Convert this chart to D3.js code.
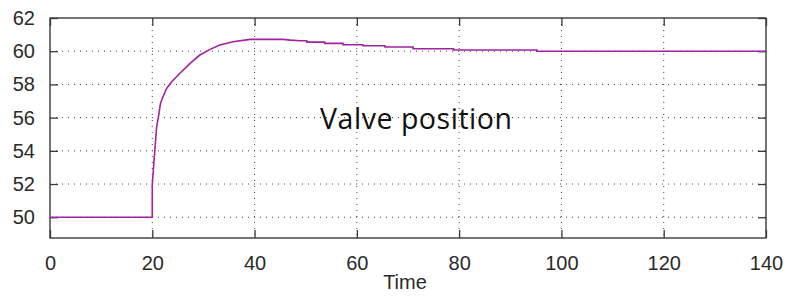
<!DOCTYPE html>
<html>
<head>
<meta charset="utf-8">
<script src="https://cdn.jsdelivr.net/npm/d3@7"></script>
<style>
  html, body { margin: 0; padding: 0; background: #fff; }
  svg { display: block; }
</style>
</head>
<body>
<svg id="chart" width="792" height="296"></svg>
<script>
// ---- data ----
const time = [0, 20, 20, 20.2, 20.5, 20.85, 21.2, 21.6, 22.1, 22.8, 23.8, 25.4, 27.4, 29.3, 31.3, 33.2, 35.8, 39.1,
  45.6, 47.0, 48.9, 50.2, 50.2, 53.7, 53.7, 57.3, 57.3, 61.2, 61.2, 65.5, 65.5, 71.0, 71.0, 78.9, 78.9, 95.2, 95.2, 140];
const valve = [50, 50, 52.0, 52.8, 54.05, 55.45, 56.05, 56.86, 57.26, 57.76, 58.16, 58.67, 59.27, 59.77, 60.11, 60.37, 60.57, 60.71,
  60.71, 60.67, 60.63, 60.63, 60.55, 60.55, 60.47, 60.47, 60.39, 60.39, 60.33, 60.33, 60.25, 60.25, 60.15, 60.15, 60.07, 60.07, 60.0, 60.0];
const xTicks = [0, 20, 40, 60, 80, 100, 120, 140];
const yTicks = [50, 52, 54, 56, 58, 60, 62];
const xLabel = "Time";
const titleText = "Valve position";

// ---- layout ----
const svg = d3.select("#chart");
const L = 50, R = 766, T = 18, B = 238;
const x = d3.scaleLinear().domain([0, 140]).range([L, R]);
const y = d3.scaleLinear().domain([48.75, 62]).range([B, T]);
const tickFont = "'Liberation Sans', Arial, sans-serif";
const tickLen = 8;
const axisColor = "#3a3a3a";

// grid (dotted)
const grid = svg.append("g");
xTicks.slice(1, -1).forEach(t => {
  grid.append("line").attr("x1", x(t)).attr("x2", x(t)).attr("y1", T).attr("y2", B)
    .attr("stroke", "#444").attr("stroke-width", 1).attr("stroke-dasharray", "1,5");
});
yTicks.filter(v => v < 62).forEach(v => {
  grid.append("line").attr("x1", L).attr("x2", R).attr("y1", y(v)).attr("y2", y(v))
    .attr("stroke", "#444").attr("stroke-width", 1).attr("stroke-dasharray", "1,5");
});

// axes via d3 (inner ticks)
const xAxisB = d3.axisBottom(x).tickValues(xTicks).tickSize(-tickLen).tickPadding(tickLen + 10).tickFormat(d3.format("d"));
const xAxisT = d3.axisTop(x).tickValues(xTicks).tickSize(-tickLen).tickFormat("");
const yAxisL = d3.axisLeft(y).tickValues(yTicks).tickSize(-tickLen).tickPadding(tickLen + 7).tickFormat(d3.format("d"));
const yAxisR = d3.axisRight(y).tickValues(yTicks).tickSize(-tickLen).tickFormat("");

function styleAxis(g) {
  g.select(".domain").remove();
  g.selectAll(".tick line").attr("stroke", axisColor).attr("stroke-width", 1.3);
  g.selectAll(".tick text").attr("fill", "#2a2a2a").style("font-family", tickFont).style("font-size", "20px");
}
svg.append("g").attr("transform", `translate(0,${B})`).call(xAxisB).call(styleAxis);
svg.append("g").attr("transform", `translate(0,${T})`).call(xAxisT).call(styleAxis);
svg.append("g").attr("transform", `translate(${L},0)`).call(yAxisL).call(styleAxis);
svg.append("g").attr("transform", `translate(${R},0)`).call(yAxisR).call(styleAxis);

// box
svg.append("rect").attr("x", L).attr("y", T).attr("width", R - L).attr("height", B - T)
  .attr("fill", "none").attr("stroke", axisColor).attr("stroke-width", 1.4);

// line
const pts = time.map((t, i) => [t, valve[i]]);
const line = d3.line().x(d => x(d[0])).y(d => y(d[1]));
svg.append("path").datum(pts).attr("d", line)
  .attr("fill", "none").attr("stroke", "#a023a0").attr("stroke-width", 1.6);

// x label
svg.append("text").attr("x", 405).attr("y", 289).attr("text-anchor", "middle")
  .attr("fill", "#2a2a2a").style("font-family", tickFont).style("font-size", "20px").text(xLabel);

// annotation
svg.append("text").attr("x", 320).attr("y", 129)
  .attr("textLength", 192).attr("lengthAdjust", "spacing")
  .attr("fill", "#111").style("font-family", "'Open Sans', 'Noto Sans', sans-serif").style("font-size", "28.5px").text(titleText);
</script>
</body>
</html>
